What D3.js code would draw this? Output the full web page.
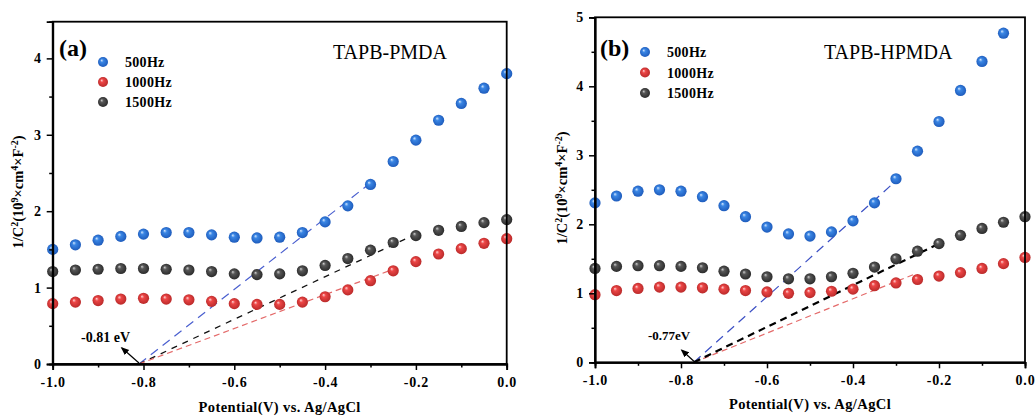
<!DOCTYPE html>
<html>
<head>
<meta charset="utf-8">
<script src="https://cdn.jsdelivr.net/npm/d3@7"></script>
<style>
  body { margin: 0; background: #fff; }
  svg { display: block; font-family: 'Liberation Serif', 'Times New Roman', serif; }
  .tick text { font-family: 'Liberation Serif', 'Times New Roman', serif; font-weight: bold; font-size: 14px; }
</style>
</head>
<body>
<div id="root"></div>
<script>
// ---- data ----
const potential = [-1.0, -0.95, -0.9, -0.85, -0.8, -0.75, -0.7, -0.65, -0.6, -0.55, -0.5,
  -0.45, -0.4, -0.35, -0.3, -0.25, -0.2, -0.15, -0.1, -0.05, 0.0];

const a500 = [1.50, 1.56, 1.62, 1.67, 1.70, 1.72, 1.72, 1.69, 1.66, 1.65, 1.66,
  1.72, 1.86, 2.07, 2.35, 2.65, 2.93, 3.19, 3.41, 3.61, 3.80];
const a1000 = [0.79, 0.81, 0.83, 0.85, 0.86, 0.85, 0.84, 0.82, 0.79, 0.78, 0.78,
  0.81, 0.88, 0.97, 1.09, 1.22, 1.34, 1.44, 1.51, 1.58, 1.64];
const a1500 = [1.21, 1.23, 1.24, 1.25, 1.25, 1.24, 1.23, 1.21, 1.18, 1.17, 1.18,
  1.22, 1.29, 1.38, 1.49, 1.59, 1.68, 1.75, 1.80, 1.85, 1.89];

const b500 = [2.31, 2.41, 2.48, 2.50, 2.48, 2.40, 2.27, 2.11, 1.96, 1.86, 1.83,
  1.89, 2.05, 2.31, 2.66, 3.06, 3.49, 3.94, 4.36, 4.77, null];
const b1000 = [0.98, 1.04, 1.07, 1.09, 1.09, 1.08, 1.06, 1.04, 1.02, 1.00, 1.01,
  1.03, 1.06, 1.11, 1.15, 1.20, 1.25, 1.30, 1.36, 1.43, 1.52];
const b1500 = [1.36, 1.39, 1.40, 1.40, 1.39, 1.37, 1.32, 1.28, 1.24, 1.21, 1.21,
  1.24, 1.29, 1.38, 1.50, 1.61, 1.72, 1.84, 1.94, 2.03, 2.11];

// Mott-Schottky fit lines: [x0, y0, x1, y1]
const fitA500 = [-0.81, 0, -0.30, 2.37];
const fitA1000 = [-0.81, 0, -0.25, 1.24];
const fitA1500 = [-0.81, 0, -0.20, 1.70];
const fitB500 = [-0.77, 0, -0.30, 2.63];
const fitB1000 = [-0.77, 0, -0.26, 1.27];
const fitB1500 = [-0.77, 0, -0.19, 1.75];

const legendLabels = ['500Hz', '1000Hz', '1500Hz'];
const xTicks = [-1.0, -0.8, -0.6, -0.4, -0.2, 0.0];
const xMinor = [-0.9, -0.7, -0.5, -0.3, -0.1];
const yTicksA = [0, 1, 2, 3, 4];
const yTicksB = [0, 1, 2, 3, 4, 5];
const yMinorA = [0.5, 1.5, 2.5, 3.5];
const yMinorB = [0.5, 1.5, 2.5, 3.5, 4.5];

//-----------------------------------------------------------------------
const W = 1035, H = 418;
const svg = d3.select('#root').append('svg')
  .attr('width', W).attr('height', H)
  .attr('viewBox', [0, 0, W, H]);

const defs = svg.append('defs');
const ballColors = {
  blue: ['#d6e8ff', '#3a86e4', '#1b57b8'],
  red: ['#ffd6d6', '#ec4646', '#b52727'],
  gray: ['#d0d0d0', '#575757', '#262626']
};
Object.entries(ballColors).forEach(([k, c]) => {
  const g = defs.append('radialGradient').attr('id', 'ball-' + k)
    .attr('cx', '50%').attr('cy', '50%').attr('r', '55%')
    .attr('fx', '35%').attr('fy', '32%');
  g.append('stop').attr('offset', '0%').attr('stop-color', c[0]);
  g.append('stop').attr('offset', '30%').attr('stop-color', c[1]);
  g.append('stop').attr('offset', '100%').attr('stop-color', c[2]);
});
defs.append('marker').attr('id', 'arrow')
  .attr('viewBox', '0 0 10 10').attr('refX', 8).attr('refY', 5)
  .attr('markerWidth', 7).attr('markerHeight', 7)
  .attr('orient', 'auto')
  .append('path').attr('d', 'M0,1 L10,5 L0,9 z').attr('fill', '#000');

function drawPanel(p) {
  const x = d3.scaleLinear().domain([-1, 0]).range([p.left, p.right]);
  const y = d3.scaleLinear().domain([0, p.yMax]).range([p.bottom, p.top]);
  const g = svg.append('g');

  // fit lines (under markers)
  p.fits.forEach(f => {
    g.append('line')
      .attr('x1', x(f.d[0])).attr('y1', y(f.d[1]))
      .attr('x2', x(f.d[2])).attr('y2', y(f.d[3]))
      .attr('stroke', f.color).attr('stroke-width', f.w)
      .attr('stroke-dasharray', f.dash);
  });

  // series
  p.series.forEach(s => {
    const pts = potential.map((v, i) => [v, s.values[i]]).filter(d => d[1] != null);
    g.selectAll(null).data(pts).enter().append('circle')
      .attr('cx', d => x(d[0])).attr('cy', d => y(d[1]))
      .attr('r', 5.6)
      .attr('fill', `url(#ball-${s.ball})`);
  });

  // axes
  const xAxis = d3.axisBottom(x).tickValues(xTicks).tickSize(6).tickFormat(d3.format('.1f'));
  const xAxisMinor = d3.axisBottom(x).tickValues(xMinor).tickSize(3.5).tickFormat('');
  const yAxis = d3.axisLeft(y).tickValues(p.yTicks).tickSize(6).tickFormat(d3.format('d'));
  const yAxisMinor = d3.axisLeft(y).tickValues(p.yMinor).tickSize(3.5).tickFormat('');

  const gx = g.append('g').attr('transform', `translate(0,${p.bottom})`).call(xAxis);
  g.append('g').attr('transform', `translate(0,${p.bottom})`).call(xAxisMinor);
  const gy = g.append('g').attr('transform', `translate(${p.left},0)`).call(yAxis);
  g.append('g').attr('transform', `translate(${p.left},0)`).call(yAxisMinor);
  g.selectAll('.domain').attr('stroke-width', 1.8);
  g.selectAll('.tick line').attr('stroke-width', 1.5);
  gx.selectAll('.tick text').attr('dy', '1.0em').attr('letter-spacing', '0.8px')
    .text(d => d3.format('.1f')(d).replace('−', '-'));
  gy.selectAll('.tick text').attr('dx', '-0.2em');

  // frame top / right
  g.append('rect')
    .attr('x', p.left).attr('y', p.top)
    .attr('width', p.right - p.left).attr('height', p.bottom - p.top)
    .attr('fill', 'none').attr('stroke', '#000').attr('stroke-width', 1.8);

  // axis titles
  g.append('text')
    .attr('x', (p.left + p.right) / 2).attr('y', p.xTitleY)
    .attr('text-anchor', 'middle').attr('font-weight', 'bold').attr('font-size', 14.5)
    .attr('letter-spacing', '0.4px')
    .text('Potential(V) vs. Ag/AgCl');

  const yt = g.append('text')
    .attr('transform', `translate(${p.yTitleX},${p.yTitleY}) rotate(-90)`)
    .attr('text-anchor', 'middle').attr('font-weight', 'bold').attr('font-size', 14.5);
  yt.append('tspan').text('1/C');
  yt.append('tspan').attr('font-size', 10).attr('dy', -5).text('2');
  yt.append('tspan').attr('dy', 5).text('(10');
  yt.append('tspan').attr('font-size', 10).attr('dy', -5).text('9');
  yt.append('tspan').attr('dy', 5).text('×cm');
  yt.append('tspan').attr('font-size', 10).attr('dy', -5).text('4');
  yt.append('tspan').attr('dy', 5).text('×F');
  yt.append('tspan').attr('font-size', 10).attr('dy', -5).text('-2');
  yt.append('tspan').attr('dy', 5).text(')');

  // panel label & sample name
  g.append('text').attr('x', p.labelX).attr('y', p.labelY)
    .attr('font-weight', 'bold').attr('font-size', 24).text(p.label);
  g.append('text').attr('x', p.nameX).attr('y', p.nameY)
    .attr('font-size', 20).text(p.name);

  // legend
  p.series.forEach((s, i) => {
    const ly = p.legY + i * p.legStep;
    g.append('circle').attr('cx', p.legX).attr('cy', ly).attr('r', 5)
      .attr('fill', `url(#ball-${s.ball})`);
    g.append('text').attr('x', p.legX + 22).attr('y', ly + 5)
      .attr('font-weight', 'bold').attr('font-size', 14)
      .attr('letter-spacing', '0.3px').text(legendLabels[i]);
  });

  // annotation arrow at intercept
  const ax = x(p.intercept), ay = y(0);
  g.append('line')
    .attr('x1', ax).attr('y1', ay - 1)
    .attr('x2', ax - p.arrow[0]).attr('y2', ay - p.arrow[1])
    .attr('stroke', '#000').attr('stroke-width', 1.2)
    .attr('marker-end', 'url(#arrow)');
  g.append('text').attr('x', p.annX).attr('y', p.annY)
    .attr('font-weight', 'bold').attr('font-size', p.annSize).text(p.ann);
}

drawPanel({
  left: 52.7, right: 506.7, top: 21.7, bottom: 364, yMax: 4.48,
  yTicks: yTicksA, yMinor: yMinorA,
  series: [
    { values: a500, ball: 'blue' },
    { values: a1000, ball: 'red' },
    { values: a1500, ball: 'gray' }
  ],
  fits: [
    { d: fitA500, color: '#4a5fcf', w: 1.2, dash: '9,6' },
    { d: fitA1500, color: '#111', w: 1.3, dash: '6,6' },
    { d: fitA1000, color: '#e46a6a', w: 1.2, dash: '6,4' }
  ],
  xTitleY: 412, yTitleX: 23, yTitleY: 192,
  label: '(a)', labelX: 59, labelY: 56,
  name: 'TAPB-PMDA', nameX: 333, nameY: 59,
  legX: 103, legY: 62, legStep: 20,
  intercept: -0.81, arrow: [17, 16],
  ann: '-0.81 eV', annX: 81, annY: 342, annSize: 14
});

drawPanel({
  left: 595, right: 1025, top: 17.3, bottom: 362.3, yMax: 5,
  yTicks: yTicksB, yMinor: yMinorB,
  series: [
    { values: b500, ball: 'blue' },
    { values: b1000, ball: 'red' },
    { values: b1500, ball: 'gray' }
  ],
  fits: [
    { d: fitB500, color: '#3c50c4', w: 1.2, dash: '9,6' },
    { d: fitB1000, color: '#e46a6a', w: 1.2, dash: '6,4' },
    { d: fitB1500, color: '#000', w: 2.2, dash: '7,5' }
  ],
  xTitleY: 409, yTitleX: 567, yTitleY: 188,
  label: '(b)', labelX: 600, labelY: 56,
  name: 'TAPB-HPMDA', nameX: 824, nameY: 59,
  legX: 645, legY: 52, legStep: 20.5,
  intercept: -0.77, arrow: [12, 12],
  ann: '-0.77eV', annX: 648, annY: 340, annSize: 13
});
</script>
</body>
</html>
